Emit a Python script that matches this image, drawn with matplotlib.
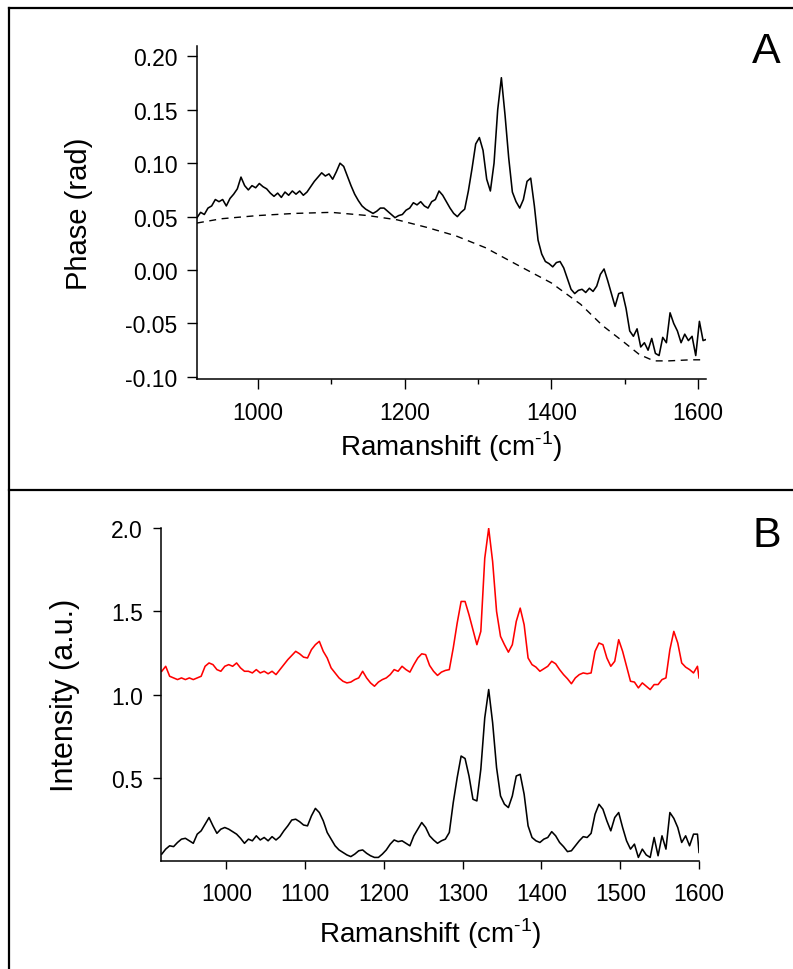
import matplotlib
matplotlib.use("Agg")
import matplotlib.pyplot as plt
from matplotlib.lines import Line2D
from matplotlib.ticker import MultipleLocator, FixedLocator, FormatStrFormatter

plt.rcParams["font.family"] = ["Liberation Sans", "DejaVu Sans"]
plt.rcParams["mathtext.fontset"] = "custom"
plt.rcParams["mathtext.rm"] = "Liberation Sans"
plt.rcParams["axes.unicode_minus"] = False

# ---- panel A: phase spectrum and dashed background ----
shift_a = [917, 922, 927, 932, 937, 942, 947, 952, 957, 962,
           967, 972, 977, 982, 987, 992, 997, 1002, 1007, 1012,
           1017, 1022, 1027, 1032, 1037, 1042, 1047, 1052, 1057, 1062,
           1067, 1072, 1077, 1082, 1087, 1092, 1097, 1102, 1107, 1112,
           1117, 1122, 1127, 1132, 1137, 1142, 1147, 1152, 1157, 1162,
           1167, 1172, 1177, 1182, 1187, 1192, 1197, 1202, 1207, 1212,
           1217, 1222, 1227, 1232, 1237, 1242, 1247, 1252, 1257, 1262,
           1267, 1272, 1277, 1282, 1287, 1292, 1297, 1302, 1307, 1312,
           1317, 1322, 1327, 1332, 1337, 1342, 1347, 1352, 1357, 1362,
           1367, 1372, 1377, 1382, 1387, 1392, 1397, 1402, 1407, 1412,
           1417, 1422, 1427, 1432, 1437, 1442, 1447, 1452, 1457, 1462,
           1467, 1472, 1477, 1482, 1487, 1492, 1497, 1502, 1507, 1512,
           1517, 1522, 1527, 1532, 1537, 1542, 1547, 1552, 1557, 1562,
           1567, 1572, 1577, 1582, 1587, 1592, 1597, 1602, 1607, 1611]
phase = [0.049, 0.054, 0.052, 0.058, 0.060, 0.066, 0.064, 0.066, 0.060, 0.067,
         0.071, 0.076, 0.087, 0.079, 0.075, 0.079, 0.077, 0.081, 0.078, 0.076,
         0.072, 0.069, 0.072, 0.068, 0.073, 0.070, 0.074, 0.071, 0.074, 0.070,
         0.073, 0.078, 0.083, 0.087, 0.091, 0.088, 0.090, 0.085, 0.092, 0.100,
         0.097, 0.088, 0.079, 0.071, 0.065, 0.060, 0.057, 0.055, 0.053, 0.055,
         0.058, 0.058, 0.055, 0.052, 0.049, 0.051, 0.052, 0.056, 0.058, 0.063,
         0.061, 0.064, 0.060, 0.058, 0.064, 0.066, 0.074, 0.070, 0.064, 0.058,
         0.053, 0.050, 0.054, 0.057, 0.074, 0.095, 0.118, 0.124, 0.112, 0.085,
         0.074, 0.100, 0.150, 0.180, 0.145, 0.105, 0.073, 0.064, 0.058, 0.066,
         0.083, 0.086, 0.060, 0.028, 0.015, 0.008, 0.006, 0.003, 0.007, 0.008,
         0.002, -0.008, -0.018, -0.022, -0.019, -0.018, -0.021, -0.017, -0.020, -0.015,
         -0.004, 0.001, -0.010, -0.022, -0.034, -0.022, -0.021, -0.036, -0.057, -0.062,
         -0.055, -0.072, -0.068, -0.075, -0.064, -0.078, -0.080, -0.063, -0.068, -0.040,
         -0.050, -0.057, -0.068, -0.060, -0.066, -0.062, -0.080, -0.048, -0.066, -0.065]

shift_bg = [917, 950, 1000, 1050, 1100, 1150, 1190, 1230, 1270, 1310,
            1356, 1400, 1440, 1470, 1500, 1520, 1540, 1560, 1590, 1605]
phase_bg = [0.044, 0.048, 0.051, 0.053, 0.054, 0.051, 0.047, 0.040, 0.032, 0.021,
            0.004, -0.012, -0.032, -0.052, -0.068, -0.079, -0.085, -0.085, -0.084, -0.084]

# ---- panel B: intensity spectra ----
shift_b = [918, 923, 928, 933, 938, 943, 948, 953, 958, 963,
           968, 973, 978, 983, 988, 993, 998, 1003, 1008, 1013,
           1018, 1023, 1028, 1033, 1038, 1043, 1048, 1053, 1058, 1063,
           1068, 1073, 1078, 1083, 1088, 1093, 1098, 1103, 1108, 1113,
           1118, 1123, 1128, 1133, 1138, 1143, 1148, 1153, 1158, 1163,
           1168, 1173, 1178, 1183, 1188, 1193, 1198, 1203, 1208, 1213,
           1218, 1223, 1228, 1233, 1238, 1243, 1248, 1253, 1258, 1263,
           1268, 1273, 1278, 1283, 1288, 1293, 1298, 1303, 1308, 1313,
           1318, 1323, 1328, 1333, 1338, 1343, 1348, 1353, 1358, 1363,
           1368, 1373, 1378, 1383, 1388, 1393, 1398, 1403, 1408, 1413,
           1418, 1423, 1428, 1433, 1438, 1443, 1448, 1453, 1458, 1463,
           1468, 1473, 1478, 1483, 1488, 1493, 1498, 1503, 1508, 1513,
           1518, 1523, 1528, 1533, 1538, 1543, 1548, 1553, 1558, 1563,
           1568, 1573, 1578, 1583, 1588, 1593, 1598, 1600]
intensity_black = [0.04, 0.07, 0.09, 0.085, 0.11, 0.13, 0.135, 0.12, 0.105, 0.16,
                   0.18, 0.22, 0.26, 0.21, 0.165, 0.19, 0.20, 0.19, 0.175, 0.16,
                   0.135, 0.105, 0.13, 0.12, 0.15, 0.125, 0.14, 0.12, 0.145, 0.125,
                   0.145, 0.18, 0.21, 0.245, 0.25, 0.235, 0.215, 0.21, 0.27, 0.315,
                   0.29, 0.24, 0.17, 0.13, 0.09, 0.065, 0.05, 0.035, 0.025, 0.04,
                   0.06, 0.065, 0.045, 0.03, 0.02, 0.02, 0.04, 0.065, 0.10, 0.125,
                   0.115, 0.12, 0.105, 0.09, 0.15, 0.19, 0.23, 0.20, 0.15, 0.125,
                   0.105, 0.12, 0.13, 0.17, 0.35, 0.50, 0.63, 0.615, 0.51, 0.37,
                   0.36, 0.55, 0.86, 1.03, 0.83, 0.56, 0.39, 0.34, 0.32, 0.39,
                   0.51, 0.52, 0.40, 0.21, 0.14, 0.12, 0.11, 0.13, 0.14, 0.175,
                   0.15, 0.11, 0.085, 0.055, 0.06, 0.09, 0.12, 0.145, 0.14, 0.165,
                   0.28, 0.34, 0.31, 0.24, 0.18, 0.26, 0.29, 0.20, 0.12, 0.07,
                   0.10, 0.02, 0.07, 0.035, 0.02, 0.14, 0.03, 0.15, 0.07, 0.29,
                   0.255, 0.20, 0.11, 0.15, 0.09, 0.16, 0.16, 0.05]
intensity_red = [1.14, 1.17, 1.11, 1.10, 1.09, 1.10, 1.09, 1.10, 1.09, 1.10,
                 1.11, 1.17, 1.19, 1.18, 1.15, 1.14, 1.17, 1.18, 1.17, 1.19,
                 1.16, 1.14, 1.14, 1.13, 1.15, 1.13, 1.14, 1.125, 1.14, 1.12,
                 1.15, 1.18, 1.21, 1.235, 1.26, 1.245, 1.225, 1.22, 1.27, 1.30,
                 1.32, 1.26, 1.22, 1.16, 1.13, 1.10, 1.08, 1.07, 1.075, 1.09,
                 1.10, 1.14, 1.10, 1.07, 1.05, 1.075, 1.09, 1.10, 1.12, 1.15,
                 1.14, 1.17, 1.15, 1.135, 1.18, 1.22, 1.245, 1.24, 1.175, 1.14,
                 1.115, 1.135, 1.145, 1.15, 1.28, 1.43, 1.56, 1.56, 1.48, 1.39,
                 1.30, 1.38, 1.82, 2.00, 1.80, 1.50, 1.35, 1.30, 1.255, 1.30,
                 1.44, 1.52, 1.42, 1.22, 1.18, 1.165, 1.14, 1.155, 1.17, 1.20,
                 1.185, 1.15, 1.12, 1.095, 1.065, 1.10, 1.12, 1.13, 1.125, 1.13,
                 1.26, 1.31, 1.30, 1.22, 1.17, 1.20, 1.33, 1.26, 1.17, 1.08,
                 1.075, 1.04, 1.07, 1.05, 1.03, 1.06, 1.06, 1.09, 1.10, 1.27,
                 1.38, 1.31, 1.19, 1.165, 1.15, 1.13, 1.17, 1.10]

xlabel = r"Ramanshift (cm$^{\text{-1}}$)"

fig = plt.figure(figsize=(7.93, 9.70), dpi=100)

# panel frame lines
for xs, ys in [([0.0108, 0.0108], [0.0, 0.9907]),
               ([0.0108, 1.0], [0.9907, 0.9907]),
               ([0.0108, 1.0], [0.4941, 0.4941])]:
    fig.add_artist(Line2D(xs, ys, transform=fig.transFigure, color="black", lw=1.6))


def style_axes(ax):
    for side in ["top", "right"]:
        ax.spines[side].set_visible(False)
    for side in ["left", "bottom"]:
        ax.spines[side].set_linewidth(1.1)
    ax.tick_params(which="major", direction="out", length=7, width=1.0, labelsize=16.5)
    ax.tick_params(which="minor", direction="out", length=3.5, width=1.0)
    ax.tick_params(axis="x", which="major", pad=9)
    ax.tick_params(axis="y", which="major", pad=7)


# top panel
ax1 = fig.add_axes([0.2484, 0.6082, 0.6419, 0.3437])
ax1.plot(shift_a, phase, color="black", lw=1.15)
ax1.plot(shift_bg, phase_bg, color="black", lw=1.0, dashes=(5, 4))
ax1.set_xlim(917, 1611)
ax1.set_ylim(-0.102, 0.21)
ax1.xaxis.set_major_locator(FixedLocator([1000, 1200, 1400, 1600]))
ax1.xaxis.set_minor_locator(FixedLocator([1100, 1300, 1500]))
ax1.yaxis.set_major_locator(FixedLocator([-0.10, -0.05, 0.0, 0.05, 0.10, 0.15, 0.20]))
ax1.yaxis.set_major_formatter(FormatStrFormatter("%.2f"))
style_axes(ax1)
ax1.set_xlabel(xlabel, fontsize=20, labelpad=3)
ax1.set_ylabel("Phase (rad)", fontsize=21)
ax1.yaxis.set_label_coords(-0.205, 0.5)

# bottom panel
ax2 = fig.add_axes([0.2030, 0.1116, 0.6785, 0.3427])
ax2.plot(shift_b, intensity_red, color="#ff0000", lw=1.15)
ax2.plot(shift_b, intensity_black, color="black", lw=1.15)
ax2.set_xlim(917, 1600)
ax2.set_ylim(0.0, 2.0)
ax2.xaxis.set_major_locator(MultipleLocator(100))
ax2.yaxis.set_major_locator(FixedLocator([0.5, 1.0, 1.5, 2.0]))
ax2.yaxis.set_major_formatter(FormatStrFormatter("%.1f"))
style_axes(ax2)
ax2.tick_params(which="major", length=6)
ax2.set_xlabel(xlabel, fontsize=20, labelpad=8)
ax2.set_ylabel("Intensity (a.u.)", fontsize=22)
ax2.yaxis.set_label_coords(-0.15, 0.5)

fig.text(766 / 793, 1 - 63 / 970, "A", ha="center", va="baseline", fontsize=31)
fig.text(767 / 793, 1 - 547 / 970, "B", ha="center", va="baseline", fontsize=31)

fig.savefig("out.png", dpi=100)
